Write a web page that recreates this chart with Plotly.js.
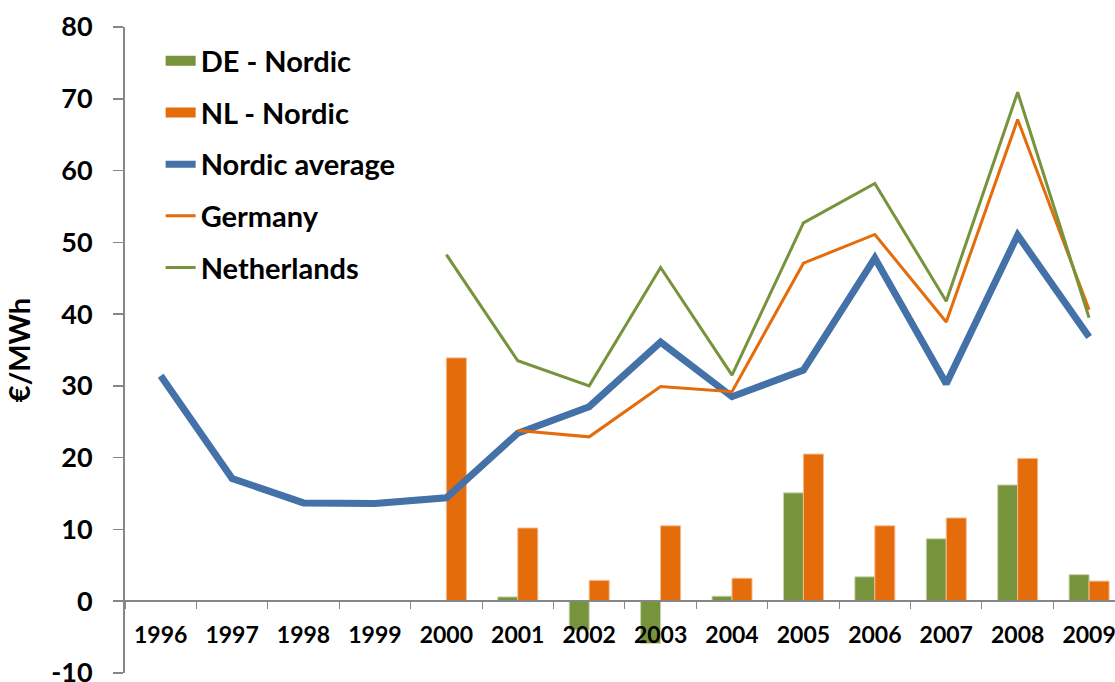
<!DOCTYPE html>
<html>
<head>
<meta charset="utf-8">
<script src="https://cdn.plot.ly/plotly-3.0.1.min.js"></script>
<style>
  html, body { margin: 0; padding: 0; background: #fff; }
  #chart { width: 1115px; height: 682px; }
</style>
</head>
<body>
<div id="chart"></div>
<script>
// years on the category axis
var years = ['1996','1997','1998','1999','2000','2001','2002','2003','2004','2005','2006','2007','2008','2009'];

// value axis ticks (hyphen minus, as in the original)
var yTickVals = [-10, 0, 10, 20, 30, 40, 50, 60, 70, 80];
var yTickText = ['-10', '0', '10', '20', '30', '40', '50', '60', '70', '80'];

// price spreads (bars)
var deNordic = [null, null, null, null, null, 0.6, -4.0, -5.9, 0.7, 15.1, 3.4, 8.7, 16.2, 3.7];
var nlNordic = [null, null, null, null, 33.9, 10.2, 2.9, 10.5, 3.2, 20.5, 10.5, 11.6, 19.9, 2.8];

// price levels (lines)
var nordicAvg = [31.4, 17.1, 13.7, 13.6, 14.4, 23.4, 27.1, 36.1, 28.5, 32.2, 47.8, 30.3, 51.0, 36.8];
var germany = [null, null, null, null, null, 23.8, 22.9, 29.9, 29.2, 47.1, 51.1, 38.9, 67.1, 40.6];
var netherlands = [null, null, null, null, 48.3, 33.5, 30.0, 46.5, 31.5, 52.7, 58.2, 41.8, 70.9, 39.5];

var green = '#77933C', orange = '#E46C0A', blue = '#4471A8';
var font = 'Lato, "Liberation Sans", Arial, sans-serif';

var traces = [
    {
        name: 'DE - Nordic', type: 'bar', x: years, y: deNordic,
        marker: {color: green, line: {color: '#c9d6b0', width: 1}},
        showlegend: false
    },
    {
        name: 'NL - Nordic', type: 'bar', x: years, y: nlNordic,
        marker: {color: orange, line: {color: '#f3b98a', width: 1}},
        showlegend: false
    },
    // legend-only entries so the bar swatches come out as wide blocks
    {
        name: 'DE - Nordic', type: 'scatter', mode: 'lines', x: [null], y: [null],
        line: {color: green, width: 19}, legendgroup: 'a', legendrank: 1, hoverinfo: 'skip'
    },
    {
        name: 'NL - Nordic', type: 'scatter', mode: 'lines', x: [null], y: [null],
        line: {color: orange, width: 19}, legendgroup: 'b', legendrank: 2, hoverinfo: 'skip'
    },
    {
        name: 'Nordic average', type: 'scatter', mode: 'lines', x: years, y: nordicAvg,
        line: {color: blue, width: 7}, legendgroup: 'c', legendrank: 3
    },
    {
        name: 'Germany', type: 'scatter', mode: 'lines', x: years, y: germany,
        line: {color: orange, width: 3}, legendgroup: 'd', legendrank: 4
    },
    {
        name: 'Netherlands', type: 'scatter', mode: 'lines', x: years, y: netherlands,
        line: {color: green, width: 3}, legendgroup: 'e', legendrank: 5
    }
];

var layout = {
    width: 1115,
    height: 682,
    margin: {l: 125, r: 0, t: 27, b: 9},
    paper_bgcolor: '#fff',
    plot_bgcolor: '#fff',
    font: {family: font, color: '#000'},
    barmode: 'group',
    bargap: 0.44,
    bargroupgap: 0,
    showlegend: true,
    legend: {
        x: 0.036, y: 0.987, xanchor: 'left', yanchor: 'top',
        bgcolor: 'rgba(0,0,0,0)',
        font: {family: font, size: 29, color: '#000', weight: 'bold'},
        traceorder: 'grouped',
        tracegroupgap: 11
    },
    xaxis: {
        type: 'category',
        range: [-0.5, 13.363],
        anchor: 'free',
        position: 10 / 90,
        showline: true, linecolor: '#868686', linewidth: 2,
        showgrid: false, zeroline: false,
        ticks: 'outside', tickson: 'boundaries', ticklen: 7, tickwidth: 1, tickcolor: '#868686',
        tickfont: {family: font, size: 23, color: '#000', weight: 'bold'},
        ticklabelstandoff: 13
    },
    yaxis: {
        range: [-10, 80],
        tickmode: 'array',
        tickvals: yTickVals,
        ticktext: yTickText,
        showline: true, linecolor: '#868686', linewidth: 2,
        showgrid: false, zeroline: false,
        ticks: 'outside', ticklen: 10, tickwidth: 1.5, tickcolor: '#868686',
        tickfont: {family: font, size: 27, color: '#000', weight: 'bold'},
        ticklabelstandoff: 15,
        ticklabeloverflow: 'allow',
        title: {text: '€/MWh', font: {family: font, size: 29, color: '#000', weight: 'bold'}, standoff: 12}
    }
};

Plotly.newPlot('chart', traces, layout, {displayModeBar: false, staticPlot: true});
</script>
</body>
</html>
